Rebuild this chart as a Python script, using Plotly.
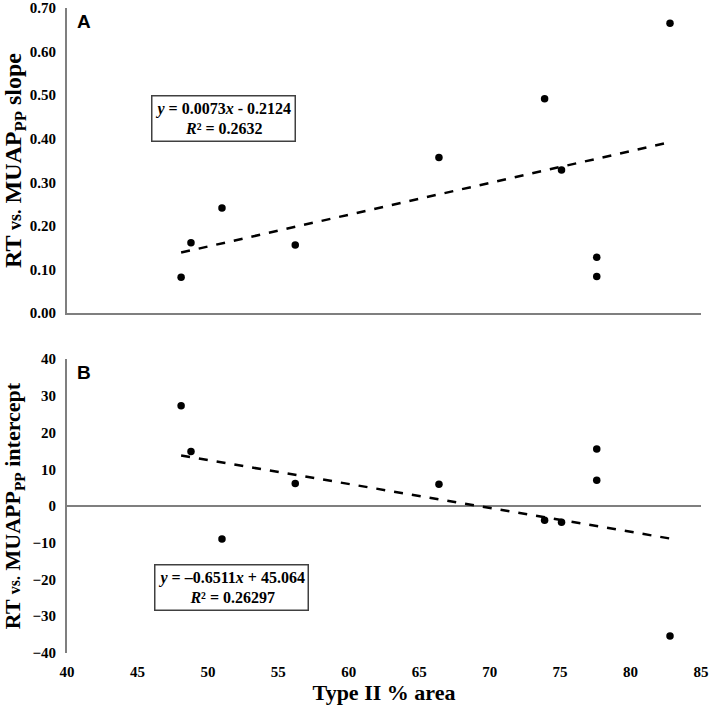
import plotly.graph_objects as go
from plotly.subplots import make_subplots

# Data
type2_area = [48.1, 48.8, 51.0, 56.2, 66.4, 73.9, 75.1, 77.6, 77.6, 82.8]
slope_vals = [0.082, 0.161, 0.241, 0.156, 0.357, 0.492, 0.328, 0.128, 0.084, 0.665]
type2_area_b = [48.1, 48.8, 51.0, 56.2, 66.4, 73.9, 75.1, 77.6, 77.6, 82.8]
intercept_vals = [27.3, 14.8, -9.0, 6.1, 5.9, -3.9, -4.4, 15.5, 7.0, -35.4]

fit_a = (0.0073, -0.2124)
fit_b = (-0.6511, 45.064)

x_ticks = [40, 45, 50, 55, 60, 65, 70, 75, 80, 85]
ya_ticks = [0.0, 0.1, 0.2, 0.3, 0.4, 0.5, 0.6, 0.7]
ya_labels = ["0.00", "0.10", "0.20", "0.30", "0.40", "0.50", "0.60", "0.70"]
yb_ticks = [-40, -30, -20, -10, 0, 10, 20, 30, 40]

SERIF = "Liberation Serif, Times New Roman, serif"
SANS = "Liberation Sans, Arial, sans-serif"
AXIS_COL = "#7f7f7f"

fig = make_subplots(rows=2, cols=1)

# Scatter A
fig.add_trace(go.Scatter(x=type2_area, y=slope_vals, mode="markers",
                         marker=dict(color="black", size=7.5), showlegend=False), row=1, col=1)
xa = [min(type2_area), max(type2_area)]
fig.add_trace(go.Scatter(x=xa, y=[fit_a[0] * v + fit_a[1] for v in xa], mode="lines",
                         line=dict(color="black", width=2.5, dash="dash"), showlegend=False), row=1, col=1)

# Scatter B
fig.add_trace(go.Scatter(x=type2_area_b, y=intercept_vals, mode="markers",
                         marker=dict(color="black", size=7.5), showlegend=False), row=2, col=1)
xb = [min(type2_area_b), max(type2_area_b)]
fig.add_trace(go.Scatter(x=xb, y=[fit_b[0] * v + fit_b[1] for v in xb], mode="lines",
                         line=dict(color="black", width=2.5, dash="dash"), showlegend=False), row=2, col=1)

tickfont = dict(family=SERIF, size=15, color="black", weight="bold")

fig.update_layout(
    width=709, height=707,
    margin=dict(l=67, r=8, t=8, b=54, autoexpand=False),
    plot_bgcolor="white", paper_bgcolor="white",
    font=dict(family=SERIF, color="black"),
    xaxis=dict(domain=[0, 1], range=[40, 85], tickvals=x_ticks, showticklabels=False, automargin=False,
               showgrid=False, zeroline=False, showline=True, linecolor=AXIS_COL, linewidth=2),
    yaxis=dict(domain=[0.5271, 1], range=[0, 0.7], tickvals=ya_ticks, ticktext=ya_labels, automargin=False,
               showgrid=False, zeroline=False, showline=True, linecolor=AXIS_COL, linewidth=2,
               tickfont=tickfont, ticks="", ticklabelstandoff=6, ticklabeloverflow="allow",
               title=dict(text="RT <span style='font-size:18px'>vs.</span> MUAP<sub>PP</sub> slope",
                          font=dict(family=SERIF, size=24, color="black", weight="bold"), standoff=8)),
    xaxis2=dict(domain=[0, 1], range=[40, 85], tickvals=x_ticks, showgrid=False, zeroline=False,
                automargin=False, ticklabeloverflow="allow",
                showline=False, tickfont=tickfont, ticks="", ticklabelstandoff=8,
                title=dict(text="Type II % area", font=dict(family=SERIF, size=22, color="black", weight="bold"),
                           standoff=3)),
    yaxis2=dict(domain=[0, 0.4558], range=[-40, 40], tickvals=yb_ticks, automargin=False,
                showgrid=False, zeroline=True, zerolinecolor=AXIS_COL, zerolinewidth=2,
                showline=True, linecolor=AXIS_COL, linewidth=2, ticklabeloverflow="allow",
                tickfont=tickfont, ticks="", ticklabelstandoff=6,
                title=dict(text="RT <span style='font-size:16px'>vs.</span> MUAPP<sub>PP</sub> intercept",
                           font=dict(family=SERIF, size=22, color="black", weight="bold"), standoff=10)),
)

fig.add_annotation(x=51.1, y=0.447, xref="x", yref="y",
                   text="<i>y</i> = 0.0073<i>x</i> - 0.2124<br><i>R</i>² = 0.2632",
                   showarrow=False, font=dict(family=SERIF, size=16, color="black", weight="bold"),
                   bordercolor="#404040", borderwidth=1.5, borderpad=3, bgcolor="white")
fig.add_annotation(x=51.67, y=-22.3, xref="x2", yref="y2",
                   text="<i>y</i> = –0.6511<i>x</i> + 45.064<br><i>R</i>² = 0.26297",
                   showarrow=False, font=dict(family=SERIF, size=16, color="black", weight="bold"),
                   bordercolor="#404040", borderwidth=1.5, borderpad=3, bgcolor="white")

fig.add_annotation(x=0.012, y=1, xref="paper", yref="paper", xanchor="left", yanchor="top",
                   text="A", showarrow=False, font=dict(family=SANS, size=19, color="black", weight="bold"),
                   yshift=-1)
fig.add_annotation(x=0.012, y=0.4558, xref="paper", yref="paper", xanchor="left", yanchor="top",
                   text="B", showarrow=False, font=dict(family=SANS, size=19, color="black", weight="bold"),
                   yshift=-1)

fig.write_html("out.html", config={"displayModeBar": False},
               post_script="document.body.style.margin='0';document.body.style.overflow='hidden';")
